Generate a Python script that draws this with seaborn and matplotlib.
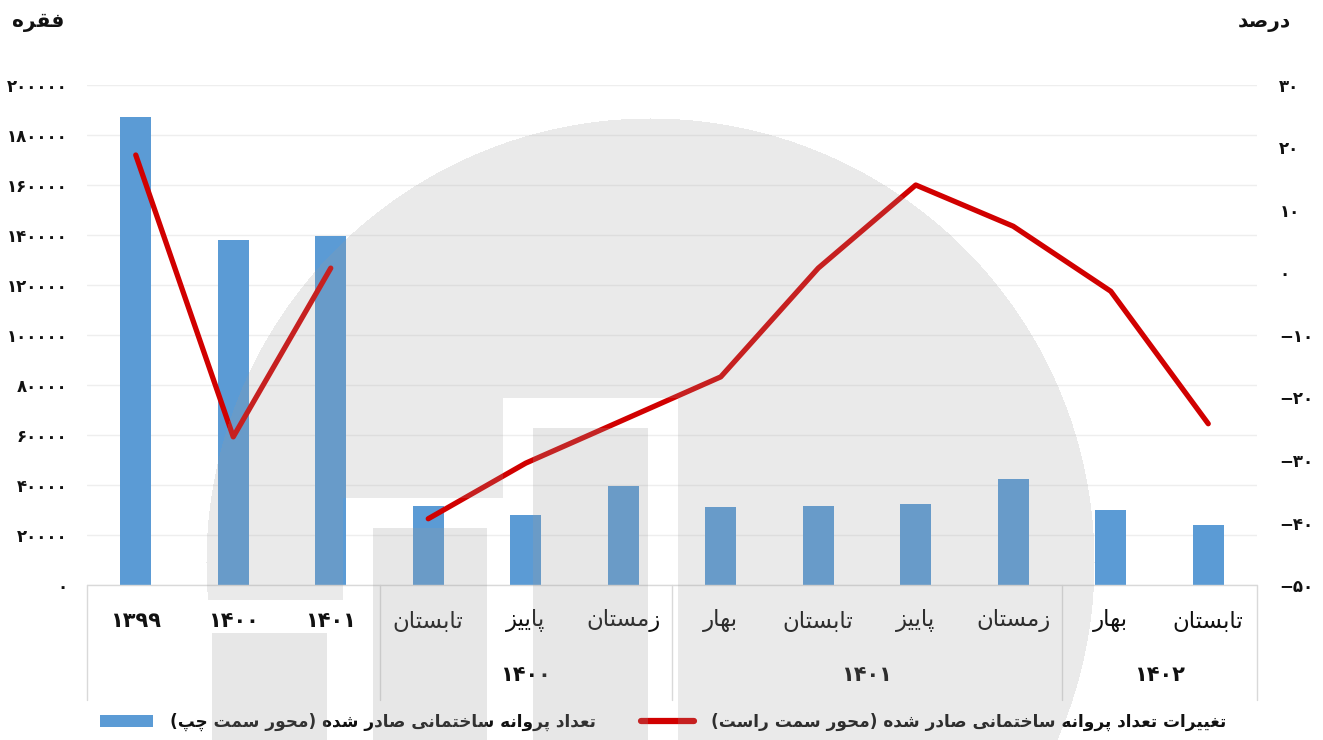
import numpy as np
import pandas as pd
import matplotlib
matplotlib.use("Agg")
import matplotlib.pyplot as plt
from matplotlib.lines import Line2D
from matplotlib.patches import Patch
import seaborn as sns

# ---- data ----
periods = ["1399", "1400", "1401",
           "تابستان", "پاییز", "زمستان",
           "بهار", "تابستان", "پاییز", "زمستان",
           "بهار", "تابستان"]
period_year = ["", "", "",
               "1400", "1400", "1400",
               "1401", "1401", "1401", "1401",
               "1402", "1402"]
segment = ["annual"] * 3 + ["quarterly"] * 9
permits = [187200, 138000, 139600, 31600, 28000, 39600,
           31200, 31600, 32400, 42400, 30000, 24000]
change_pct = [18.8, -26.3, 0.7, -39.4, -30.5, -23.6,
              -16.7, 0.7, 14.0, 7.4, -3.0, -24.2]

left_title = "فقره"
right_title = "درصد"
bar_label = "تعداد پروانه ساختمانی صادر شده (محور سمت چپ)"
line_label = "تغییرات تعداد پروانه ساختمانی صادر شده (محور سمت راست)"

BLUE = "#5B9BD5"
RED = "#D10000"
GRID = "#EEEEEE"
AXLINE = "#D9D9D9"
INK = "#111111"

# ---- minimal Persian shaping (presentation forms + RTL order) ----
LETTERS = {
    "ا": (0xFE8D, 2), "ب": (0xFE8F, 4), "ت": (0xFE95, 4), "ج": (0xFE9D, 4),
    "ح": (0xFEA1, 4), "خ": (0xFEA5, 4), "د": (0xFEA9, 2), "ر": (0xFEAD, 2),
    "ز": (0xFEAF, 2), "س": (0xFEB1, 4), "ش": (0xFEB5, 4), "ص": (0xFEB9, 4),
    "ع": (0xFEC9, 4), "غ": (0xFECD, 4), "ف": (0xFED1, 4), "ق": (0xFED5, 4),
    "ل": (0xFEDD, 4), "م": (0xFEE1, 4), "ن": (0xFEE5, 4), "ه": (0xFEE9, 4),
    "و": (0xFEED, 2), "پ": (0xFB56, 4), "چ": (0xFB7A, 4), "ی": (0xFBFC, 4),
    "ک": (0xFB8E, 4),
}


def fa(text):
    out = []
    for i, ch in enumerate(text):
        if ch not in LETTERS:
            out.append(ch)
            continue
        start, n = LETTERS[ch]
        prev = text[i - 1] if i > 0 else ""
        nxt = text[i + 1] if i + 1 < len(text) else ""
        join_prev = prev in LETTERS and LETTERS[prev][1] == 4
        join_next = n == 4 and nxt in LETTERS
        if join_prev and join_next:
            k = 3
        elif join_prev:
            k = 1
        elif join_next:
            k = 2
        else:
            k = 0
        out.append(chr(start + k))
    return "".join(reversed(out)).translate(str.maketrans("()", ")("))


def fa_num(s):
    return str(s).translate(str.maketrans("0123456789", "۰۱۲۳۴۵۶۷۸۹")).replace("-", "\u2212")


df = pd.DataFrame({
    "pos": np.arange(len(periods)),
    "permits": permits,
    "change": change_pct,
    "segment": segment,
})

sns.set_style("white")
plt.rcParams["font.family"] = ["DejaVu Sans"]

W, H = 1323, 740
fig = plt.figure(figsize=(W / 100, H / 100), dpi=100)
ax = fig.add_axes([87 / W, 1 - 585 / H, (1257 - 87) / W, 500 / H])

sns.barplot(data=df, x="pos", y="permits", color=BLUE, saturation=1,
            width=0.32, linewidth=0, ax=ax)
ax.set_xlim(-0.5, len(periods) - 0.5)
ax.set_ylim(0, 200000)
ax.set_yticks(range(0, 200001, 20000))
ax.set_yticklabels([fa_num(v) for v in range(0, 200001, 20000)],
                   fontsize=12, fontweight="bold", color=INK)
ax.yaxis.grid(True, color=GRID, lw=1)
ax.set_axisbelow(True)
ax.tick_params(axis="y", length=0, pad=14)
ax.set_xticks([])
ax.set_xlabel("")
ax.set_ylabel("")

ax2 = ax.twinx()
sns.lineplot(data=df, x="pos", y="change", units="segment", estimator=None,
             color=RED, linewidth=3.8, solid_capstyle="round", ax=ax2,
             legend=False)
ax2.set_ylim(-50, 30)
ax2.set_yticks(range(-50, 31, 10))
ax2.set_yticklabels([fa_num(v) for v in range(-50, 31, 10)],
                    fontsize=12, fontweight="bold", color=INK)
ax2.tick_params(axis="y", length=0, pad=16)
ax2.set_xlabel("")
ax2.set_ylabel("")
ax2.set_xlim(-0.5, len(periods) - 0.5)

for a in (ax, ax2):
    for s in a.spines.values():
        s.set_visible(False)

# category axis with two label rows
trans = ax.get_xaxis_transform()
ax.plot([-0.5, len(periods) - 0.5], [0, 0], transform=trans,
        color=AXLINE, lw=1, clip_on=False)
bounds = [-0.5] + [i - 0.5 for i in range(1, len(periods))
                   if period_year[i] != period_year[i - 1]] + [len(periods) - 0.5]
for xb in bounds:
    ax.plot([xb, xb], [0, -0.23], transform=trans, color=AXLINE, lw=1,
            clip_on=False)

for i, lab in enumerate(periods):
    if lab.isdigit():
        ax.text(i, -0.072, fa_num(lab), transform=trans, ha="center",
                va="center", fontsize=15, fontweight="bold", color=INK)
    else:
        ax.text(i, -0.072, fa(lab), transform=trans, ha="center",
                va="center", fontsize=16.5, color=INK)

for yr in dict.fromkeys(period_year):
    if not yr:
        continue
    idx = [i for i, g in enumerate(period_year) if g == yr]
    ax.text(np.mean(idx), -0.18, fa_num(yr), transform=trans, ha="center",
            va="center", fontsize=15, fontweight="bold", color=INK)

fig.text(12 / W, 1 - 22 / H, fa(left_title), ha="left", va="center",
         fontsize=14.5, fontweight="bold", color=INK)
fig.text(1291 / W, 1 - 22 / H, fa(right_title), ha="right", va="center",
         fontsize=14.5, fontweight="bold", color=INK)

handles = [Patch(facecolor=BLUE, edgecolor="none"),
           Line2D([], [], color=RED, lw=4.5)]
fig.legend(handles, [fa(bar_label), fa(line_label)], loc="center",
           bbox_to_anchor=(663 / W, 1 - 722 / H), ncol=2, frameon=False,
           prop={"size": 12.2, "weight": "bold"}, labelcolor=INK,
           handlelength=3.1, handleheight=0.75,
           handletextpad=1.0, columnspacing=2.7)

# faint watermark logo laid over the chart
yy, xx = np.mgrid[0:H, 0:W]
circle = (xx - 650) ** 2 + (yy - 562) ** 2 <= 444 ** 2
cut = ((xx < 343) & (yy >= 600)) | ((xx >= 343) & (xx < 503) & (yy >= 498)) | \
      ((xx >= 503) & (xx < 678) & (yy >= 398))
blocks = ((xx >= 212) & (xx < 327) & (yy >= 633)) | \
         ((xx >= 373) & (xx < 487) & (yy >= 528)) | \
         ((xx >= 533) & (xx < 648) & (yy >= 428))
alpha = np.zeros((H, W))
alpha[circle & ~cut] = 0.21
alpha[blocks] = 0.24
img = np.zeros((H, W, 4))
img[..., :3] = 157 / 255
img[..., 3] = alpha
fig.figimage(img, xo=0, yo=0, origin="upper", zorder=10)

fig.savefig("out.png", dpi=100)
plt.close(fig)
